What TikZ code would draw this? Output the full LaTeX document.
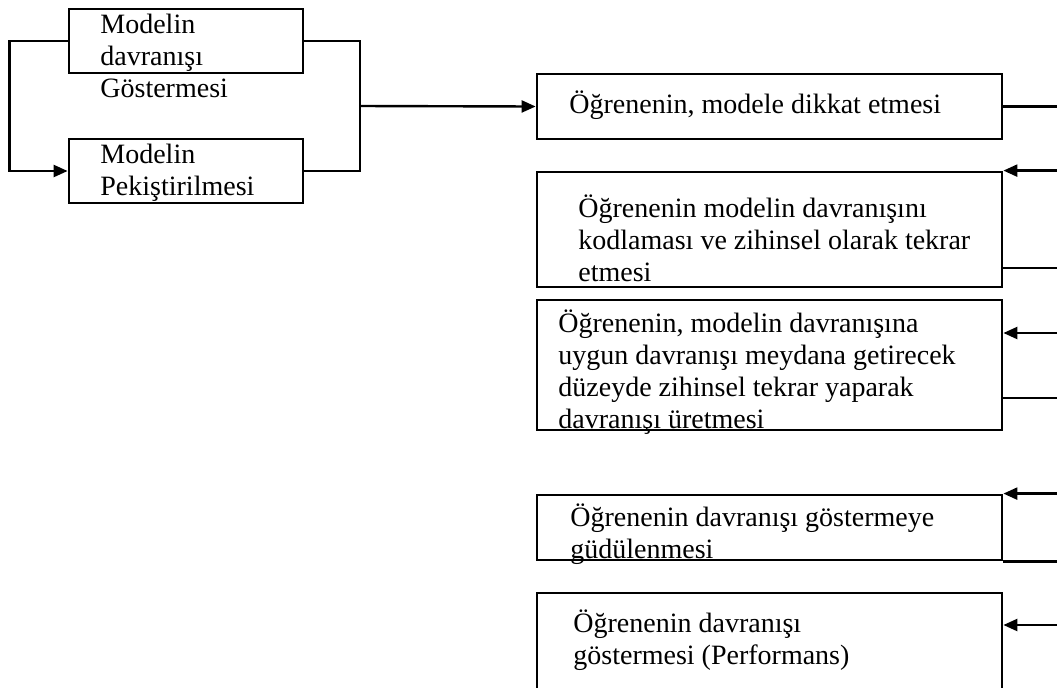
\documentclass[tikz,border=0pt]{standalone}
\usepackage{fontspec}
\setmainfont{Liberation Serif}
\usetikzlibrary{arrows.meta,fit}
\newcommand{\arrowtip}{Triangle[length=7pt,width=6pt]}
\tikzset{
  box/.style={draw, line width=1.4pt, inner sep=0pt},
  txt/.style={anchor=base west, inner sep=0pt, align=left,
    font=\fontsize{14}{16}\selectfont},
  link/.style={line width=1.2pt},
}

\begin{document}
\begin{tikzpicture}[x=0.5pt, y=-0.5pt]
  % General frame is (0,0) to (1057,687), in pixels
  % text nodes sit on the baseline of their last line
  \useasboundingbox (0,0) rectangle (1057,687);
  \clip (0,0) rectangle (1057,687);
  \coordinate (edge) at (1057,0);

  % model boxes
  \node[box, fit={(69,9) (303,73)}] (show) {};
  \node[txt] (showtxt) at (100,97) {Modelin\\davranışı\\Göstermesi};
  \node[box, fit={(69,139) (303,203)}] (reinf) {};
  \node[txt] (reinftxt) at (100,195) {Modelin\\Pekiştirilmesi};

  % loop and join
  \draw[link, -\arrowtip] (show.west) -- ++(-58,0) |- (reinf.west);
  \coordinate (join) at (360,106);
  \draw[link] (show.east) -| (join) |- (reinf.east);

  % attention
  \node[box, fit={(537,74) (1002,139)}] (attend) {};
  \node[txt] (attendtxt) at (569,113) {Öğrenenin, modele dikkat etmesi};
  \draw[link, -\arrowtip] (join) -- (attend.west);
  \draw[link] (attend.east) -- (attend.east -| edge);

  % retention
  \node[box, fit={(537,172) (1002,287)}] (code) {};
  \node[txt] (codetxt) at (578,281) {Öğrenenin modelin davranışını\\kodlaması ve zihinsel olarak tekrar\\etmesi};
  \draw[link, -\arrowtip] (edge |- code.north east) -- (code.north east);
  \draw[link] (code.east |- 0,268) -- (edge |- 0,268);

  % reproduction
  \node[box, fit={(537,300) (1002,430)}] (produce) {};
  \node[txt] (producetxt) at (558,428) {Öğrenenin, modelin davranışına\\uygun davranışı meydana getirecek\\düzeyde zihinsel tekrar yaparak\\davranışı üretmesi};
  \draw[link, -\arrowtip] (edge |- 0,333) -- (produce.east |- 0,333);
  \draw[link] (produce.east |- 0,398) -- (edge |- 0,398);

  % motivation
  \node[box, fit={(537,495) (1002,560)}] (motive) {};
  \node[txt] (motivetxt) at (570,558) {Öğrenenin davranışı göstermeye\\güdülenmesi};
  \draw[link, -\arrowtip] (edge |- motive.north east) -- (motive.north east);
  \draw[link] (motive.south east) -- (edge |- motive.south east);

  % performance
  \node[box, fit={(537,593) (1002,720)}] (perform) {};
  \node[txt] (performtxt) at (573,664) {Öğrenenin davranışı\\göstermesi (Performans)};
  \draw[link, -\arrowtip] (edge |- 0,625) -- (perform.east |- 0,625);
\end{tikzpicture}
\end{document}
